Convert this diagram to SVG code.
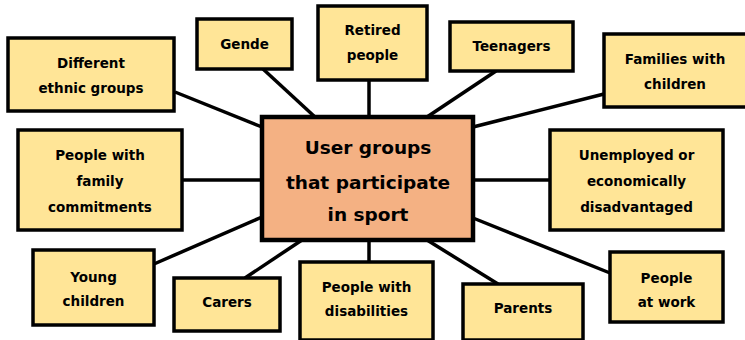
<svg xmlns="http://www.w3.org/2000/svg" width="745" height="340" viewBox="0 0 745 340">
<style>
.n{fill:#FFE597;stroke:#000;stroke-width:3.5}
.c{fill:#F4B183;stroke:#000;stroke-width:4.5}
.t{font-family:"DejaVu Sans",sans-serif;font-weight:bold;font-size:13.5px;fill:#000;text-anchor:middle}
.ct{font-family:"DejaVu Sans",sans-serif;font-weight:bold;font-size:18.5px;fill:#000;text-anchor:middle}
#edges line{stroke:#000;stroke-width:3.5}
</style>
<rect width="745" height="340" fill="#fff"/>
<g id="edges">
<line x1="175" y1="92" x2="262" y2="127"/>
<line x1="263" y1="69" x2="315" y2="117"/>
<line x1="369" y1="80" x2="369" y2="117"/>
<line x1="496" y1="71" x2="427" y2="117"/>
<line x1="604" y1="94" x2="473" y2="127"/>
<line x1="182" y1="180" x2="262" y2="180"/>
<line x1="473" y1="180" x2="550" y2="180"/>
<line x1="154" y1="264" x2="262" y2="217"/>
<line x1="245" y1="278" x2="302" y2="240"/>
<line x1="369" y1="240" x2="369" y2="262"/>
<line x1="498" y1="284" x2="427" y2="240"/>
<line x1="610" y1="273" x2="473" y2="218"/>
</g>
<g id="center">
<rect class="c" x="262" y="117" width="211" height="123"/>
<text class="ct" x="368" y="154">User groups</text>
<text class="ct" x="368" y="189">that participate</text>
<text class="ct" x="368" y="221">in sport</text>
</g>
<g id="ethnic">
<rect class="n" x="8" y="38" width="166" height="73"/>
<text class="t" x="91" y="68">Different</text>
<text class="t" x="91" y="93">ethnic groups</text>
</g>
<g id="gende">
<rect class="n" x="197" y="19" width="95" height="50"/>
<text class="t" x="244.5" y="49">Gende</text>
</g>
<g id="retired">
<rect class="n" x="318" y="6" width="109" height="74"/>
<text class="t" x="372.5" y="35">Retired</text>
<text class="t" x="372.5" y="60">people</text>
</g>
<g id="teenagers">
<rect class="n" x="450" y="22" width="123" height="49"/>
<text class="t" x="511.5" y="51">Teenagers</text>
</g>
<g id="families">
<rect class="n" x="604" y="34" width="143" height="73"/>
<text class="t" x="675" y="64">Families with</text>
<text class="t" x="675" y="89">children</text>
</g>
<g id="family-commitments">
<rect class="n" x="18" y="130" width="164" height="100"/>
<text class="t" x="100" y="160">People with</text>
<text class="t" x="100" y="186">family</text>
<text class="t" x="100" y="212">commitments</text>
</g>
<g id="unemployed">
<rect class="n" x="550" y="130" width="173" height="100"/>
<text class="t" x="636.5" y="160">Unemployed or</text>
<text class="t" x="636.5" y="186">economically</text>
<text class="t" x="636.5" y="212">disadvantaged</text>
</g>
<g id="young">
<rect class="n" x="33" y="250" width="121" height="75"/>
<text class="t" x="93.5" y="282">Young</text>
<text class="t" x="93.5" y="306">children</text>
</g>
<g id="carers">
<rect class="n" x="174" y="278" width="106" height="53"/>
<text class="t" x="227" y="307">Carers</text>
</g>
<g id="disabilities">
<rect class="n" x="300" y="262" width="133" height="78"/>
<text class="t" x="366.5" y="292">People with</text>
<text class="t" x="366.5" y="316">disabilities</text>
</g>
<g id="parents">
<rect class="n" x="463" y="284" width="120" height="56"/>
<text class="t" x="523" y="313">Parents</text>
</g>
<g id="work">
<rect class="n" x="610" y="252" width="113" height="70"/>
<text class="t" x="666.5" y="283">People</text>
<text class="t" x="666.5" y="307">at work</text>
</g>
</svg>
